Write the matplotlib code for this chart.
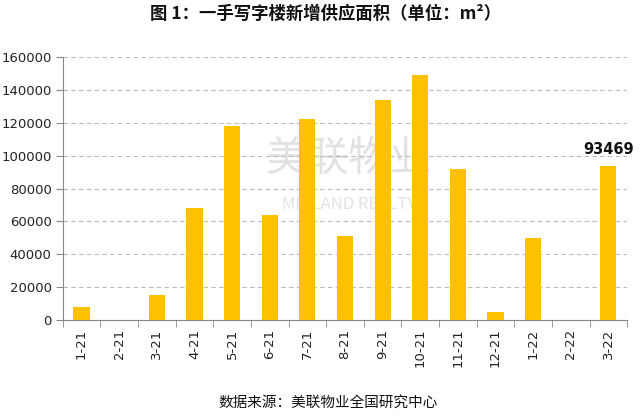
import matplotlib
matplotlib.use("Agg")
import matplotlib.pyplot as plt

plt.rcParams['font.family'] = ['Noto Sans CJK SC', 'DejaVu Sans']

categories = ["1-21", "2-21", "3-21", "4-21", "5-21", "6-21", "7-21", "8-21",
              "9-21", "10-21", "11-21", "12-21", "1-22", "2-22", "3-22"]
values = [8000, 0, 15000, 68000, 118000, 64000, 122000, 51000,
          134000, 149000, 92000, 5000, 50000, 0, 93469]
yticks = [0, 20000, 40000, 60000, 80000, 100000, 120000, 140000, 160000]

fig = plt.figure(figsize=(6.4, 4.19), dpi=100)
ax = fig.add_axes([0.098, 0.236, 0.882, 0.628])

x = list(range(len(categories)))
ax.bar(x, values, width=0.43, color="#FFC000", zorder=3)
ax.set_xlim(-0.5, len(categories) - 0.5)
ax.set_ylim(0, 160000)
ax.set_yticks(yticks)
ax.set_yticklabels([str(v) for v in yticks], family='DejaVu Sans', fontsize=9.5, color="#222222")
ax.set_xticks(x)
ax.set_xticklabels(categories, rotation=90, family='DejaVu Sans', fontsize=9.5, color="#222222")
ax.set_xticks([i - 0.5 for i in range(len(categories) + 1)], minor=True)
ax.tick_params(axis='x', which='major', length=0, pad=6)
ax.tick_params(axis='x', which='minor', length=5, color="#888888", direction='out')
ax.tick_params(axis='y', length=5, color="#888888", direction='out', pad=3)

ax.grid(axis='y', linestyle=(0, (4, 3)), color="#BBBBBB", linewidth=0.8, zorder=0)
for s in ['top', 'right']:
    ax.spines[s].set_visible(False)
ax.spines['left'].set_color("#888888")
ax.spines['bottom'].set_color("#888888")

ax.text(x[-1], values[-1] + 5500, "93469", ha='center', va='bottom',
        fontsize=10.5, fontweight='bold', family='DejaVu Sans', color="#111111")

# watermark
ax.text(7.1, 98000, "美联物业", ha='center', va='center', fontsize=30, color="#E2E2E2", zorder=1)
ax.text(7.1, 70000, "MIDLAND REALTY", ha='center', va='center', fontsize=12, color="#E2E2E2", zorder=1)

fig.text(0.508, 0.966, "图 1：一手写字楼新增供应面积（单位：m²）", ha='center', va='center',
         fontsize=12.5, fontweight='bold', color="#111111")
fig.text(0.512, 0.038, "数据来源：美联物业全国研究中心", ha='center', va='center',
         fontsize=10.5, color="#111111")

fig.savefig("out.png", dpi=100)
